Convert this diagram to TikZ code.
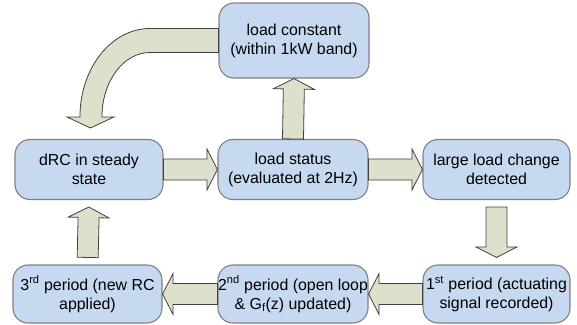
\documentclass[tikz,border=0pt]{standalone}
\usepackage{fontspec}
\setmainfont{Liberation Sans}
\usetikzlibrary{calc}
\definecolor{boxblue}{RGB}{198,217,241}
\definecolor{boxline}{RGB}{128,128,128}
\definecolor{arrowfill}{RGB}{221,225,203}
\definecolor{arrowline}{RGB}{64,64,64}

% block arrow between two anchors, optional gap at both ends
\newcommand\flowarrow[3][0pt]{%
 \coordinate (fa-s) at ($(#2)!#1!(#3)$);
 \coordinate (fa-e) at ($(#3)!#1!(#2)$);
 \coordinate (fa-h) at ($(fa-e)!10.5pt!(fa-s)$);
 \draw[blockarrow] ($(fa-s)!10.5pt!90:(fa-e)$) -- ($(fa-h)!10.5pt!90:(fa-e)$)
  -- ($(fa-h)!20.5pt!90:(fa-e)$) -- (fa-e) -- ($(fa-h)!20.5pt!-90:(fa-e)$)
  -- ($(fa-h)!10.5pt!-90:(fa-e)$) -- ($(fa-s)!10.5pt!-90:(fa-e)$) -- cycle;
}

\begin{document}
\begin{tikzpicture}[x=1pt,y=-1pt,
 box/.style={draw=boxline,line width=1.1pt,fill=boxblue,rounded corners=15pt,
  align=center,inner sep=0pt,font=\fontsize{15.9}{19}\selectfont},
 blockarrow/.style={draw=arrowline,line width=0.8pt,fill=arrowfill,line join=miter}]
 \useasboundingbox (0,0) rectangle (577,324);

 % top row
 \node[box,minimum width=150pt,minimum height=75pt] (const) at (294,40.5)
  {load constant\\(within 1kW band)};
 % middle row
 \node[box,minimum width=148pt,minimum height=60pt] (drc) at (89,169.5)
  {dRC in steady\\state};
 \node[box,minimum width=150pt,minimum height=60pt] (status) at (293,169.5)
  {load status\\(evaluated at 2Hz)};
 \node[box,minimum width=147pt,minimum height=60pt] (large) at (496.5,169.5)
  {large load change\\detected};
 % bottom row
 \node[box,minimum width=149pt,minimum height=58pt] (third) at (87.5,294)
  {3\textsuperscript{rd} period (new RC\\applied)};
 \node[box,minimum width=150pt,minimum height=58pt] (second) at (293,294)
  {2\textsuperscript{nd} period (open loop\\\& G\textsubscript{f}(z) updated)};
 \node[box,minimum width=147pt,minimum height=58pt] (first) at (496.5,294)
  {1\textsuperscript{st} period (actuating\\signal recorded)};

 \flowarrow{drc.east}{status.west}
 \flowarrow{status.east}{large.west}
 \flowarrow{status.north}{const.south}
 \flowarrow[7pt]{large.south}{first.north}
 \flowarrow{first.west}{second.east}
 \flowarrow{second.west}{third.east}
 \flowarrow[7pt]{third.north}{drc.south}

 % curved return arrow
 \draw[blockarrow] ([yshift=12pt]const.west) -- ++(-68.5,0)
  .. controls +(-38.6,0) and +(0,-48.9) .. ++(-70,88.5) -- ++(-13,0)
  -- ++(23.5,11) -- ++(23.5,-11) -- ++(-12,0)
  .. controls +(0,-35.6) and +(-26.5,0) .. ++(48,-64.5) -- ++(68.5,0) -- cycle;
\end{tikzpicture}
\end{document}
